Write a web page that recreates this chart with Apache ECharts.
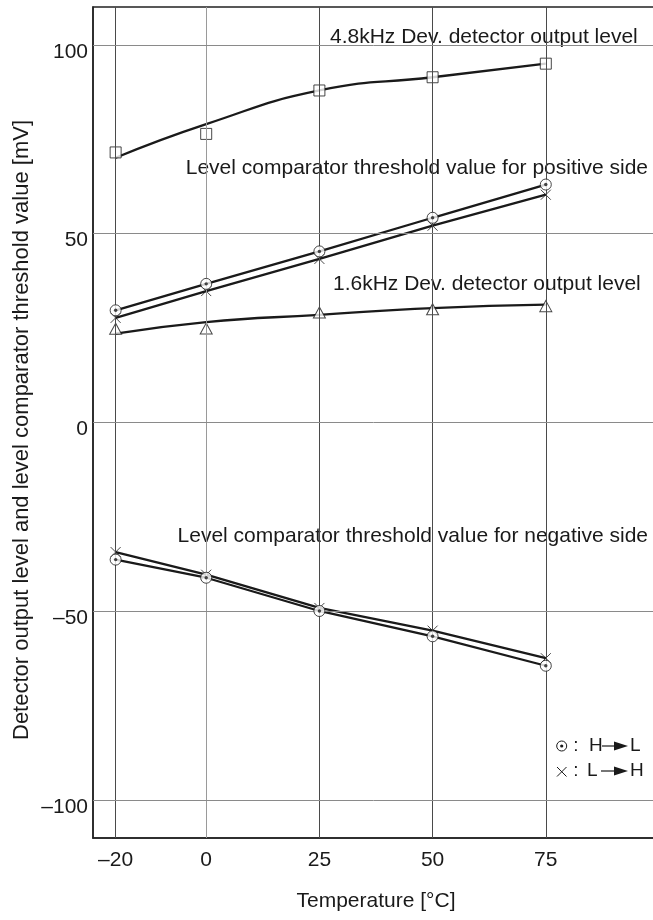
<!DOCTYPE html>
<html>
<head>
<meta charset="utf-8">
<script src="https://cdn.jsdelivr.net/npm/echarts@6/dist/echarts.min.js"></script>
<style>
html,body{margin:0;padding:0;background:#fff;}
#chart{width:653px;height:920px;}
</style>
</head>
<body>
<div id="chart"></div>
<script>
// ---- data ----
const xTicks = [-20, 0, 25, 50, 75];
const yTicks = [-100, -50, 0, 50, 100];
const temps = [-20, 0, 25, 50, 75];
const khz48Points = [71.5, 76.4, 87.9, 91.4, 95.0];
const khz48Curve  = [70.1, 79.0, 87.9, 91.4, 95.0];
const khz16Points = [24.8, 24.9, 29.1, 30.0, 30.8];
const khz16Curve  = [23.5, 26.6, 28.5, 30.3, 31.2];
const posHL = [29.7, 36.7, 45.3, 54.2, 63.0];
const posLH = [27.7, 34.8, 43.3, 52.1, 60.3];
const negHL = [-36.3, -41.1, -49.9, -56.6, -64.4];
const negLH = [-34.3, -40.3, -49.1, -55.1, -62.4];
const annotations = [
  "4.8kHz Dev. detector output level",
  "Level comparator threshold value for positive side",
  "1.6kHz Dev. detector output level",
  "Level comparator threshold value for negative side"
];
const xName = "Temperature [°C]";
const yName = "Detector output level and level comparator threshold value [mV]";

// ---- helpers ----
const FONT = "'Liberation Sans', Arial, Helvetica, sans-serif";
const INK = '#1a1a1a';
const pair = (xs, ys) => xs.map((x, i) => [x, ys[i]]);
const fmt = v => (v < 0 ? '\u2013' + Math.abs(v) : String(v));
const vGridColor = v => (v === 0 ? '#9a9a9a' : '#4a4a4a');

const chart = echarts.init(document.getElementById('chart'), null, {renderer: 'canvas'});

const lineBase = {
  type: 'line', showSymbol: false, symbol: 'none', silent: true,
  lineStyle: {color: INK, width: 2.3}, z: 3
};
const markerStyle = {color: '#fff', borderColor: INK, borderWidth: 1};
const crossPath = 'path://M0,0L10,10M10,0L0,10';

const option = {
  animation: false,
  backgroundColor: '#fff',
  grid: {left: 93, top: 7, width: 566, height: 831, show: true, borderColor: '#222', borderWidth: 1.5,
         containLabel: false, outerBoundsMode: 'none'},
  xAxis: {
    type: 'value', min: -25, max: 100, interval: 5,
    axisLine: {show: true, onZero: false, lineStyle: {color: '#222', width: 1.5}},
    axisTick: {show: false},
    splitLine: {show: false},
    axisLabel: {
      margin: 12, color: INK, fontSize: 21, fontFamily: FONT,
      formatter: v => (xTicks.indexOf(v) >= 0 ? fmt(v) : '')
    }
  },
  yAxis: {
    type: 'value', min: -110, max: 110, interval: 10,
    axisLine: {show: true, onZero: false, lineStyle: {color: '#222', width: 1.5}},
    axisTick: {show: false},
    splitLine: {show: false},
    axisLabel: {
      margin: 5, color: INK, fontSize: 21, fontFamily: FONT,
      verticalAlign: 'top', lineHeight: 14,
      formatter: v => (yTicks.indexOf(v) >= 0 ? fmt(v) : '')
    }
  },
  series: [
    {
      type: 'line', data: [], silent: true, z: 0,
      markLine: {
        silent: true, symbol: 'none', animation: false,
        label: {show: false},
        data: xTicks.map(v => ({xAxis: v, lineStyle: {color: vGridColor(v), width: 1, type: 'solid'}}))
          .concat(yTicks.map(v => ({yAxis: v, lineStyle: {color: '#8a8a8a', width: 1, type: 'solid'}})))
      }
    },
    Object.assign({}, lineBase, {name: '4.8kHz curve', data: pair(temps, khz48Curve), smooth: 0.5}),
    Object.assign({}, lineBase, {name: '1.6kHz curve', data: pair(temps, khz16Curve), smooth: 0.5}),
    Object.assign({}, lineBase, {name: 'pos H-L', data: pair(temps, posHL)}),
    Object.assign({}, lineBase, {name: 'pos L-H', data: pair(temps, posLH)}),
    Object.assign({}, lineBase, {name: 'neg H-L', data: pair(temps, negHL)}),
    Object.assign({}, lineBase, {name: 'neg L-H', data: pair(temps, negLH)}),
    {type: 'scatter', name: '4.8kHz', data: pair(temps, khz48Points), symbol: 'rect', symbolSize: 11, itemStyle: markerStyle, z: 4, silent: true},
    {type: 'scatter', name: '1.6kHz', data: pair(temps, khz16Points), symbol: 'triangle', symbolSize: [12, 11], itemStyle: markerStyle, z: 4, silent: true},
    {type: 'scatter', name: 'x pos', data: pair(temps, posLH), symbol: crossPath, symbolSize: 10, itemStyle: {color: 'transparent', borderColor: INK, borderWidth: 1}, z: 4, silent: true},
    {type: 'scatter', name: 'x neg', data: pair(temps, negLH), symbol: crossPath, symbolSize: 10, itemStyle: {color: 'transparent', borderColor: INK, borderWidth: 1}, z: 4, silent: true},
    {type: 'scatter', name: 'o pos', data: pair(temps, posHL), symbol: 'circle', symbolSize: 11, itemStyle: markerStyle, z: 5, silent: true},
    {type: 'scatter', name: 'o neg', data: pair(temps, negHL), symbol: 'circle', symbolSize: 11, itemStyle: markerStyle, z: 5, silent: true},
    {type: 'scatter', name: 'o pos dot', data: pair(temps, posHL), symbol: 'circle', symbolSize: 3.4, itemStyle: {color: INK}, z: 6, silent: true},
    {type: 'scatter', name: 'o neg dot', data: pair(temps, negHL), symbol: 'circle', symbolSize: 3.4, itemStyle: {color: INK}, z: 6, silent: true}
  ],
  graphic: [
    // annotations
    {type: 'text', z: 1, left: 327, top: 24, style: {text: annotations[0], font: '21px ' + FONT, fill: INK, backgroundColor: '#fff', padding: [3, 3]}},
    {type: 'text', z: 1, right: 2, top: 155, style: {text: annotations[1], font: '21px ' + FONT, fill: INK, backgroundColor: '#fff', padding: [3, 3]}},
    {type: 'text', z: 1, left: 330, top: 271, style: {text: annotations[2], font: '21px ' + FONT, fill: INK, backgroundColor: '#fff', padding: [3, 3]}},
    {type: 'text', z: 1, right: 2, top: 523, style: {text: annotations[3], font: '21px ' + FONT, fill: INK, backgroundColor: '#fff', padding: [3, 3]}},
    // axis names
    {type: 'text', x: 376, y: 901, style: {text: xName, font: '21px ' + FONT, fill: INK, align: 'center', verticalAlign: 'middle'}},
    {type: 'text', x: 22, y: 430, rotation: Math.PI / 2, style: {text: yName, font: '22px ' + FONT, fill: INK, align: 'center', verticalAlign: 'middle'}},
    // legend line 1: (o) : H -> L
    {type: 'circle', z: 10, shape: {cx: 561.7, cy: 746, r: 5}, style: {fill: '#fff', stroke: INK, lineWidth: 1}},
    {type: 'circle', z: 11, shape: {cx: 561.7, cy: 746, r: 1.6}, style: {fill: INK}},
    {type: 'text', z: 10, x: 576, y: 746, style: {text: ':', font: '19px ' + FONT, fill: INK, align: 'center', verticalAlign: 'middle'}},
    {type: 'text', z: 10, x: 589, y: 746, style: {text: 'H', font: '19px ' + FONT, fill: INK, align: 'left', verticalAlign: 'middle'}},
    {type: 'line', z: 10, shape: {x1: 602, y1: 746, x2: 616, y2: 746}, style: {stroke: INK, lineWidth: 1.2}},
    {type: 'polygon', z: 10, shape: {points: [[614, 741.5], [628, 746], [614, 750.5]]}, style: {fill: INK}},
    {type: 'text', z: 10, x: 630, y: 746, style: {text: 'L', font: '19px ' + FONT, fill: INK, align: 'left', verticalAlign: 'middle'}},
    // legend line 2: x : L -> H
    {type: 'line', z: 10, shape: {x1: 557, y1: 767, x2: 566.5, y2: 776.5}, style: {stroke: INK, lineWidth: 1}},
    {type: 'line', z: 10, shape: {x1: 566.5, y1: 767, x2: 557, y2: 776.5}, style: {stroke: INK, lineWidth: 1}},
    {type: 'text', z: 10, x: 576, y: 771, style: {text: ':', font: '19px ' + FONT, fill: INK, align: 'center', verticalAlign: 'middle'}},
    {type: 'text', z: 10, x: 587, y: 771, style: {text: 'L', font: '19px ' + FONT, fill: INK, align: 'left', verticalAlign: 'middle'}},
    {type: 'line', z: 10, shape: {x1: 601, y1: 771, x2: 616, y2: 771}, style: {stroke: INK, lineWidth: 1.2}},
    {type: 'polygon', z: 10, shape: {points: [[614, 766.5], [628, 771], [614, 775.5]]}, style: {fill: INK}},
    {type: 'text', z: 10, x: 630, y: 771, style: {text: 'H', font: '19px ' + FONT, fill: INK, align: 'left', verticalAlign: 'middle'}}
  ]
};
chart.setOption(option);
</script>
</body>
</html>
